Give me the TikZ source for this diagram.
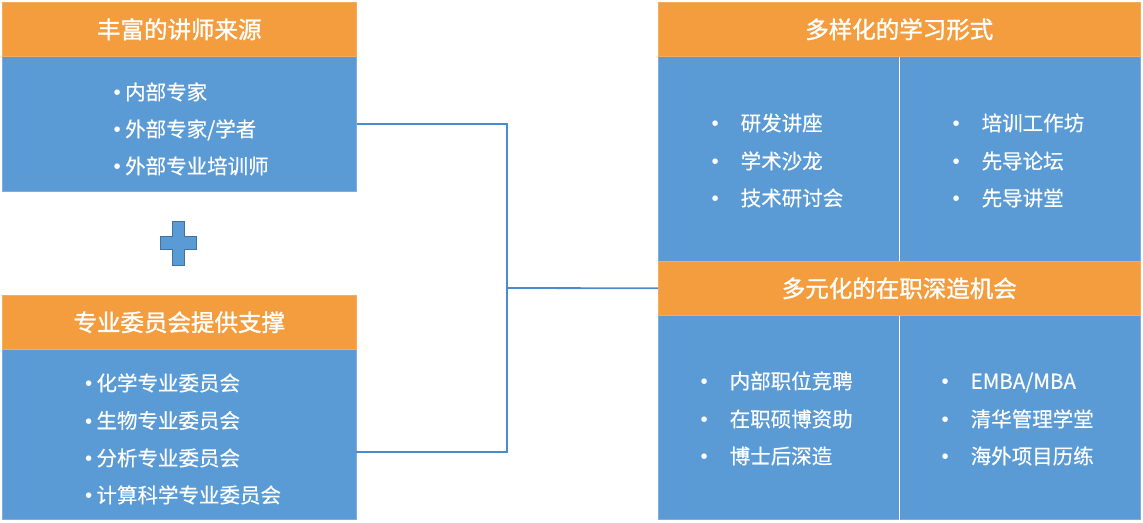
\documentclass[tikz,border=0pt]{standalone}
\usepackage{fontspec}
\setmainfont{Noto Sans CJK SC}[FakeBold=0.4]
\newfontfamily\headfont{Noto Sans CJK SC}[FakeBold=1.3]
\newfontfamily\bulletfont{Liberation Sans}
\usetikzlibrary{positioning}
\definecolor{hdorange}{HTML}{F49D3E}
\definecolor{bdblue}{HTML}{5B9BD5}
\definecolor{lnblue}{HTML}{4A8AD0}
\definecolor{pldark}{HTML}{41719C}
\newcommand{\dotL}{\makebox[11.5pt][l]{\bulletfont\char"2022}}
\newcommand{\dotR}{\makebox[29pt][l]{\bulletfont\char"2022}}
\tikzset{
  head/.style={fill=hdorange,draw=hdorange!85!white,line width=0.6pt,text=white,inner sep=0pt,anchor=north west,font=\fontsize{23.5}{28}\headfont},
  body/.style={fill=bdblue,draw=bdblue!80!white,line width=0.6pt,inner sep=0pt,anchor=north west},
  entry/.style={text=white,inner sep=0pt,anchor=west,text height=18pt,text depth=2.5pt,font=\fontsize{20.5}{24}\selectfont},
  link/.style={draw=lnblue,line width=1.8pt},
}

\begin{document}
\begin{tikzpicture}[x=1pt,y=-1pt,line join=miter]
\useasboundingbox (0,0) rectangle (1143,522);
% left column
\node[body,minimum width=354pt,minimum height=135pt] (srcBody) at (2,56) {};
\node[head,minimum width=354pt,minimum height=54pt] (srcHead) at (2,2) {丰富的讲师来源};
\node[entry] (src1) at (113.5,92) {\dotL 内部专家};
\node[entry] (src2) at (113.5,129) {\dotL 外部专家/学者};
\node[entry] (src3) at (113.5,166) {\dotL 外部专业培训师};
% plus sign
\filldraw[fill=bdblue,draw=pldark,line width=0.8pt] (172.7,221) -- (184.3,221) -- (184.3,236.7) -- (196.7,236.7) -- (196.7,249.3) -- (184.3,249.3) -- (184.3,265) -- (172.7,265) -- (172.7,249.3) -- (160.7,249.3) -- (160.7,236.7) -- (172.7,236.7) -- cycle;
\node[body,minimum width=354pt,minimum height=170pt] (comBody) at (2,349) {};
\node[head,minimum width=354pt,minimum height=54pt] (comHead) at (2,295) {专业委员会提供支撑};
\node[entry] (com1) at (84.8,383) {\dotL 化学专业委员会};
\node[entry] (com2) at (84.8,420.5) {\dotL 生物专业委员会};
\node[entry] (com3) at (84.8,458) {\dotL 分析专业委员会};
\node[entry] (com4) at (84.8,495) {\dotL 计算科学专业委员会};
% right column
\node[body,minimum width=482pt,minimum height=205pt] (formBody) at (658,56) {};
\node[body,minimum width=482pt,minimum height=204pt] (deepBody) at (658,315) {};
\draw[white,line width=1.4pt] (formBody.north) -- (formBody.south);
\draw[white,line width=1.4pt] (deepBody.north) -- (deepBody.south);
\node[head,minimum width=482pt,minimum height=54pt] (formHead) at (658,2) {多样化的学习形式};
\node[head,minimum width=482pt,minimum height=54pt] (deepHead) at (658,261) {多元化的在职深造机会};
\node[entry] (form1) at (711.5,123) {\dotR 研发讲座};
\node[entry] (form2) at (711.5,161) {\dotR 学术沙龙};
\node[entry] (form3) at (711.5,198) {\dotR 技术研讨会};
\node[entry] (form4) at (952.5,123) {\dotR 培训工作坊};
\node[entry] (form5) at (952.5,161) {\dotR 先导论坛};
\node[entry] (form6) at (952.5,198) {\dotR 先导讲堂};
\node[entry] (deep1) at (700.5,381) {\dotR 内部职位竞聘};
\node[entry] (deep2) at (700.5,419) {\dotR 在职硕博资助};
\node[entry] (deep3) at (700.5,456) {\dotR 博士后深造};
\node[entry] (deep4) at (941.5,381) {\dotR EMBA/MBA};
\node[entry] (deep5) at (941.5,419) {\dotR 清华管理学堂};
\node[entry] (deep6) at (941.5,456) {\dotR 海外项目历练};
% connectors
\coordinate (hub) at (507,288);
\coordinate (comJoin) at (356,452);
\draw[link] (srcBody.east) -| (hub) |- (comJoin);
\draw[link] (hub) -- (deepHead.west);
\end{tikzpicture}
\end{document}
